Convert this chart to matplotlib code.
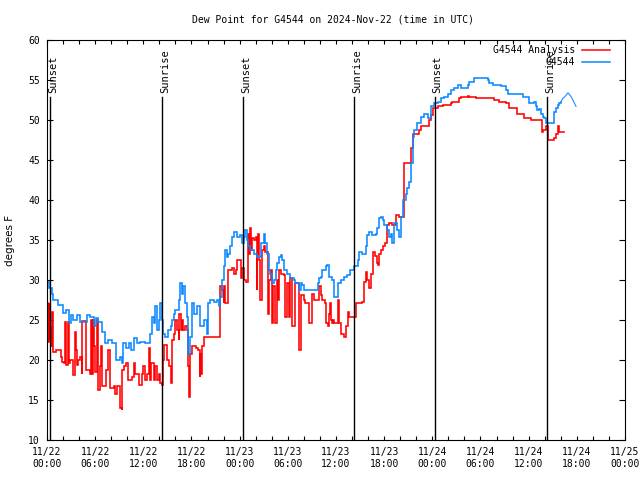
import matplotlib
matplotlib.use("Agg")
import matplotlib.pyplot as plt
from matplotlib.lines import Line2D
from matplotlib.ticker import MultipleLocator, FixedLocator, FixedFormatter

# ---- data (hours since 11/22 00:00 UTC, dew point in F) ----
blue_t = [0.0, 0.3, 0.6, 0.7, 1.4, 2.0, 2.4, 2.7, 3.0, 3.3, 3.7, 4.1, 4.7, 5.0, 5.4, 5.8, 6.1, 6.4,
          6.8, 7.2, 7.65, 8.1, 8.6, 9.1, 9.3, 9.5, 9.8, 10.2, 10.5, 10.8, 11.2, 11.6, 12.2, 12.8,
          13.1, 13.3, 13.5, 13.7, 13.9, 14.1, 14.3, 14.5, 14.7, 15.1, 15.4, 15.6, 15.8, 16.0, 16.4,
          16.6, 16.8, 17.0, 17.2, 17.4, 17.6, 17.85, 18.1, 18.3, 18.7, 19.1, 19.5, 19.9, 20.1,
          20.35, 20.8, 21.2, 21.4, 21.6, 21.8, 22.0, 22.2, 22.4, 22.6, 22.85, 23.05, 23.3, 23.7,
          24.1, 24.3, 24.5, 24.7, 24.9, 25.1, 25.3, 25.75, 26.2, 26.6, 27.0, 27.2, 27.4, 27.6,
          27.8, 28.05, 28.25, 28.5, 28.7, 28.9, 29.1, 29.3, 29.5, 29.9, 30.3, 30.75, 30.95, 31.4,
          31.6, 31.8, 32.0, 33.25, 33.7, 33.9, 34.1, 34.3, 34.7, 34.9, 35.1, 35.5, 35.7, 36.2,
          36.6, 37.0, 37.4, 37.8, 38.2, 38.7, 38.9, 39.3, 39.7, 39.9, 40.1, 40.5, 40.95, 41.15,
          41.35, 41.6, 41.8, 42.0, 42.4, 42.6, 42.8, 43.0, 43.2, 43.65, 43.85, 44.05, 44.3, 44.7,
          44.9, 45.1, 45.3, 45.55, 45.75, 46.15, 46.55, 47.0, 47.4, 47.8, 48.2, 48.65, 49.05,
          49.5, 49.9, 50.3, 50.7, 51.15, 51.6, 52.4, 52.6, 53.2, 53.65, 54.9, 55.1, 55.5, 56.55,
          57.2, 57.4, 59.25, 60.1, 60.7, 60.9, 61.1, 61.3, 61.5, 61.75, 61.95, 62.2, 63.2, 63.4,
          63.6, 63.8, 64.05]
blue_v = [29.8, 29.0, 28.3, 27.5, 26.9, 25.9, 26.25, 24.6, 25.6, 25.0, 25.6, 24.8, 24.8, 25.6, 25.4,
          24.2, 25.2, 24.8, 23.5, 22.1, 22.5, 22.1, 20.0, 20.4, 19.6, 22.1, 21.5, 22.1, 21.3, 22.7,
          22.1, 22.3, 22.1, 23.3, 25.4, 24.6, 26.7, 23.75, 25.0, 27.1, 25.0, 23.3, 22.9, 23.75,
          24.2, 25.0, 25.8, 26.25, 27.5, 29.6, 28.3, 29.2, 27.1, 25.4, 20.8, 22.9, 27.1, 25.8,
          26.7, 24.2, 25.0, 23.3, 27.1, 27.5, 27.3, 27.5, 26.7, 27.9, 30.0, 31.7, 33.75, 32.9,
          33.3, 34.2, 35.4, 36.0, 35.4, 35.6, 34.6, 35.4, 36.25, 35.0, 34.2, 33.75, 33.3, 32.9,
          34.6, 35.8, 34.6, 33.3, 31.25, 30.8, 29.6, 30.0, 31.25, 32.1, 32.9, 33.1, 32.5, 31.25,
          30.8, 30.2, 30.0, 29.6, 28.75, 29.6, 29.4, 28.75, 28.75, 29.6, 30.2, 30.4, 31.25, 31.7,
          31.9, 30.4, 30.0, 27.9, 29.6, 30.0, 30.4, 30.6, 31.25, 31.7, 32.5, 33.5, 33.3, 34.2,
          35.6, 36.0, 35.6, 35.8, 36.5, 37.7, 37.9, 37.5, 36.9, 36.25, 35.4, 35.8, 34.6, 37.1,
          36.25, 35.4, 37.9, 40.0, 40.8, 41.5, 42.3, 44.6, 47.9, 48.75, 49.6, 50.4, 50.8, 50.2,
          51.7, 52.1, 52.3, 52.7, 52.9, 53.3, 53.75, 54.0, 54.4, 54.0, 54.4, 54.8, 55.2, 55.3,
          55.0, 54.6, 54.4, 54.2, 53.75, 53.3, 52.9, 52.1, 52.3, 51.7, 51.25, 51.4, 50.8, 50.4,
          50.2, 49.6, 51.0, 51.5, 51.9, 52.1, 52.3]
# thin trailing segment of the G4544 series
tail_t = [64.05, 64.25, 64.5, 64.9, 65.3, 65.7, 65.9]
tail_v = [52.3, 52.7, 52.9, 53.4, 52.9, 52.1, 51.7]

red_t = [0.0, 0.1, 0.2, 0.3, 0.45, 0.55, 0.66, 0.8, 1.1, 1.7, 1.9, 2.1, 2.2, 2.35, 2.6, 2.75, 2.9,
         3.3, 3.5, 3.6, 3.75, 3.9, 4.1, 4.3, 4.4, 4.8, 5.3, 5.5, 5.6, 5.75, 5.85, 6.0, 6.2, 6.4,
         6.6, 6.75, 6.9, 7.4, 7.6, 7.9, 8.3, 8.5, 8.7, 9.1, 9.3, 9.4, 9.6, 9.8, 10.1, 10.6, 10.8,
         11.0, 11.5, 11.8, 12.0, 12.2, 12.4, 12.65, 12.8, 13.0, 13.3, 13.5, 13.7, 13.9, 14.1, 14.3,
         14.45, 14.6, 14.9, 15.0, 15.2, 15.5, 15.6, 15.8, 16.0, 16.2, 16.4, 16.5, 16.7, 16.85,
         17.0, 17.2, 17.4, 17.6, 17.75, 17.85, 18.1, 18.5, 18.8, 19.0, 19.1, 19.2, 19.35, 19.6,
         21.5, 21.6, 21.8, 22.0, 22.1, 22.2, 22.5, 23.05, 23.3, 23.5, 23.7, 24.2, 24.3, 24.6,
         24.85, 25.0, 25.15, 25.3, 25.4, 25.5, 25.8, 26.0, 26.1, 26.2, 26.25, 26.35, 26.5, 26.8,
         27.0, 27.2, 27.5, 27.7, 27.85, 28.05, 28.2, 28.35, 28.45, 28.6, 28.75, 28.9, 29.1, 29.5,
         29.7, 29.85, 30.1, 30.3, 30.55, 30.95, 31.4, 31.6, 31.7, 32.0, 32.1, 32.6, 33.0, 33.2,
         33.9, 34.1, 34.3, 34.6, 34.8, 34.95, 35.1, 35.25, 35.4, 35.5, 35.6, 35.7, 36.2, 36.4,
         36.6, 37.0, 37.3, 37.45, 37.6, 38.45, 39.3, 39.5, 39.7, 39.9, 40.1, 40.4, 40.6, 40.8,
         41.1, 41.25, 41.35, 41.6, 41.9, 42.1, 42.3, 42.4, 42.6, 43.0, 43.45, 43.85, 44.45, 45.4,
         45.55, 46.35, 46.55, 47.6, 47.8, 48.05, 48.65, 49.3, 50.3, 50.5, 51.35, 51.6, 52.4, 52.6,
         53.4, 55.7, 56.3, 57.2, 57.6, 58.6, 59.45, 60.3, 61.6, 61.8, 62.2, 62.4, 63.2, 63.4, 63.6,
         63.7, 63.8, 64.4]
red_v = [27.1, 22.3, 27.1, 22.5, 24.2, 21.7, 26.0, 21.0, 21.3, 20.4, 19.7, 19.6, 24.8, 19.4, 24.8,
         19.6, 20.0, 18.1, 23.5, 21.2, 19.4, 20.0, 20.4, 18.3, 24.9, 18.75, 18.3, 25.0, 18.3, 25.0,
         21.7, 18.5, 25.0, 16.25, 19.2, 21.7, 16.7, 18.75, 21.25, 16.5, 16.7, 15.8, 16.7, 14.0,
         13.8, 18.75, 19.2, 19.6, 17.5, 17.9, 19.6, 18.3, 16.9, 18.3, 19.2, 17.5, 18.3, 21.5,
         17.5, 19.6, 17.5, 19.2, 17.5, 18.3, 17.1, 16.9, 20.0, 21.9, 21.7, 20.0, 19.2, 17.1,
         22.5, 23.3, 25.0, 23.75, 22.5, 25.8, 23.75, 25.0, 23.75, 24.2, 23.75, 19.2, 15.4, 20.8,
         21.7, 21.5, 21.25, 17.9, 20.8, 18.3, 21.7, 22.9, 25.8, 29.2, 28.75, 27.1, 29.2, 27.1,
         31.25, 31.5, 30.8, 31.25, 32.5, 30.2, 31.5, 30.0, 29.8, 35.8, 33.3, 36.5, 33.75, 35.2,
         35.0, 35.4, 28.75, 33.3, 35.8, 32.5, 27.5, 33.75, 34.2, 33.5, 25.8, 30.0, 31.25, 24.6,
         29.2, 28.3, 24.6, 30.0, 27.5, 31.25, 30.8, 30.6, 25.4, 29.6, 25.4, 30.2, 24.2, 29.6,
         21.25, 22.5, 28.1, 27.5, 27.1, 24.6, 28.3, 27.5, 29.2, 28.1, 27.5, 27.1, 24.6, 24.2,
         25.8, 27.1, 25.0, 24.6, 25.0, 24.6, 27.5, 24.6, 23.3, 22.9, 24.2, 26.0, 25.4, 27.1, 27.3,
         29.8, 31.0, 30.0, 29.0, 30.8, 33.5, 33.0, 32.1, 31.9, 33.3, 33.75, 34.2, 34.6, 35.4, 36.9,
         37.1, 36.9, 38.1, 37.9, 44.6, 46.5, 48.3, 48.75, 49.2, 50.0, 50.6, 51.5, 51.7, 51.9, 52.1,
         52.3, 52.7, 52.9, 53.0, 52.9, 52.7, 52.5, 52.3, 52.1, 51.5, 50.8, 50.2, 50.0, 48.5, 48.75,
         49.2, 47.5, 47.7, 48.3, 48.75, 49.2, 48.5, 48.5]

event_t = [0.37, 14.36, 24.45, 38.3, 48.3, 62.3]
event_lbl = ["Sunset", "Sunrise", "Sunset", "Sunrise", "Sunset", "Sunrise"]

tick_hours = list(range(0, 73, 6))
tick_lbls = ["11/22\n00:00", "11/22\n06:00", "11/22\n12:00", "11/22\n18:00",
             "11/23\n00:00", "11/23\n06:00", "11/23\n12:00", "11/23\n18:00",
             "11/24\n00:00", "11/24\n06:00", "11/24\n12:00", "11/24\n18:00",
             "11/25\n00:00"]

series_names = ["G4544 Analysis", "G4544"]
RED = "#ff0000"
BLUE = "#0a88ff"
MONO = "DejaVu Sans Mono"

fig = plt.figure(figsize=(6.4, 4.8), dpi=100)
ax = fig.add_axes([47/640, 1-440/480, 578/640, 400/480])

ax.plot(red_t, red_v, color=RED, lw=1.15, drawstyle="steps-post", solid_joinstyle="miter")
ax.plot(blue_t, blue_v, color=BLUE, lw=1.15, drawstyle="steps-post", solid_joinstyle="miter")
ax.plot(tail_t, tail_v, color=BLUE, lw=0.75)

for t, lbl in zip(event_t, event_lbl):
    ax.plot([t, t], [10, 52.9], color="black", lw=1.0)
    ax.text(t - 0.25, 53.4, lbl, rotation=90, ha="left", va="bottom",
            fontsize=7.5, family=MONO)

ax.set_xlim(0, 72)
ax.set_ylim(10, 60)
ax.xaxis.set_major_locator(FixedLocator(tick_hours))
ax.xaxis.set_major_formatter(FixedFormatter(tick_lbls))
ax.xaxis.set_minor_locator(MultipleLocator(2))
ax.yaxis.set_major_locator(MultipleLocator(5))
ax.tick_params(axis="both", which="both", direction="in", top=True, right=True,
               width=0.8, labelsize=7)
ax.tick_params(axis="x", which="both", length=3, pad=5)
ax.tick_params(axis="y", which="major", length=4, pad=5)
for lab in ax.get_xticklabels() + ax.get_yticklabels():
    lab.set_family(MONO)
for lab in ax.get_xticklabels():
    lab.set_linespacing(1.3)
for s in ax.spines.values():
    s.set_linewidth(0.8)

fig.text(0.52, 1 - 20/480, "Dew Point for G4544 on 2024-Nov-22 (time in UTC)",
         ha="center", va="center", fontsize=7, family=MONO)
fig.text(10/640, 0.5, "degrees F", rotation=90, ha="center", va="center", fontsize=7.5,
         family="DejaVu Sans")

# legend (manual, text right-aligned before the sample line)
for i, (name, col) in enumerate(zip(series_names, [RED, BLUE])):
    yy = 1 - (50 + 12*i)/480
    fig.text(575/640, yy, name, ha="right", va="center", fontsize=7, family=MONO)
    fig.add_artist(Line2D([582/640, 610/640], [yy, yy], color=col, lw=1.1))

fig.savefig("out.png", dpi=100)
